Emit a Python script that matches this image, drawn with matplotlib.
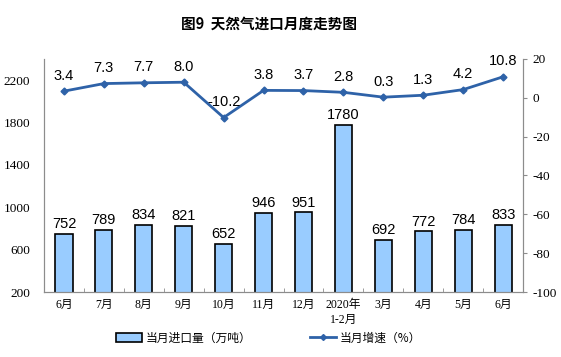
import matplotlib.pyplot as plt
from matplotlib.patches import Patch
from matplotlib.lines import Line2D
import numpy as np

months      = ["6月", "7月", "8月", "9月", "10月", "11月", "12月", "2020年\n1-2月", "3月", "4月", "5月", "6月"]
importVol   = [752, 789, 834, 821, 652, 946, 951, 1780, 692, 772, 784, 833]
growthRate  = [3.4, 7.3, 7.7, 8.0, -10.2, 3.8, 3.7, 2.8, 0.3, 1.3, 4.2, 10.8]

barColor  = "#99ccff"
lineColor = "#2e62a8"
axisGrey  = "#8c8c8c"
cjk       = ["Noto Sans CJK SC", "DejaVu Sans"]
serifCjk  = ["Liberation Serif", "Noto Sans CJK SC"]
plt.rcParams["axes.unicode_minus"] = False

fig = plt.figure(figsize=(5.61, 3.57), dpi=100)
ax  = fig.add_axes([0.0784, 0.182, 0.854, 0.653])
ax2 = ax.twinx()

x = np.arange(len(months))
ax.bar(x, importVol, width=0.43, color=barColor, edgecolor="black", linewidth=1.2, zorder=2)
for xi, v in zip(x, importVol):
    ax.annotate(f"{v}", (xi, v), xytext=(0, 2), textcoords="offset points",
                ha="center", va="bottom", fontsize=10.5, family="Liberation Sans")

ax2.plot(x, growthRate, color=lineColor, linewidth=2, marker="D", markersize=3.5, zorder=3)
for xi, v in zip(x, growthRate):
    ax2.annotate(f"{v:.1f}", (xi, v), xytext=(0, 6), textcoords="offset points",
                 ha="center", va="bottom", fontsize=10.5, family="Liberation Sans", zorder=4)

ax.set_xlim(-0.5, len(months) - 0.5)
ax.set_ylim(200, 2400)
ax.set_yticks([200, 600, 1000, 1400, 1800, 2200])
ax2.set_ylim(-100, 20)
ax2.set_yticks(range(-100, 21, 20))

ax.set_xticks(x)
ax.set_xticklabels(months, family=serifCjk, fontsize=8.5, linespacing=1.3)
ax.set_xticks(np.arange(-0.5, len(months), 1), minor=True)
ax.tick_params(axis="x", which="major", length=0, pad=5)
ax.tick_params(axis="x", which="minor", length=3, color=axisGrey, direction="in")
ax.tick_params(axis="y", length=0, labelsize=9.5, pad=10)
ax2.tick_params(axis="y", length=3, color=axisGrey, labelsize=9.5, pad=4)
for lbl in ax.get_yticklabels() + ax2.get_yticklabels():
    lbl.set_family("Liberation Serif")

for a in (ax, ax2):
    a.spines["top"].set_visible(False)
    for s in ("left", "right", "bottom"):
        a.spines[s].set_color(axisGrey)
        a.spines[s].set_linewidth(0.8)

fig.text(0.48, 0.935, "图9  天然气进口月度走势图", ha="center", va="center",
         fontsize=10.5, fontweight="bold", family=cjk)

handles = [Patch(facecolor=barColor, edgecolor="black", linewidth=1.2),
           Line2D([], [], color=lineColor, linewidth=2, marker="D", markersize=3)]
fig.legend(handles, ["当月进口量（万吨）", "当月增速（%）"], loc="center",
           bbox_to_anchor=(0.479, 0.053), ncol=2, frameon=False, columnspacing=5,
           handlelength=2.2, handletextpad=0.3, prop={"family": cjk, "size": 8.5})

fig.savefig("out.png", dpi=100)
